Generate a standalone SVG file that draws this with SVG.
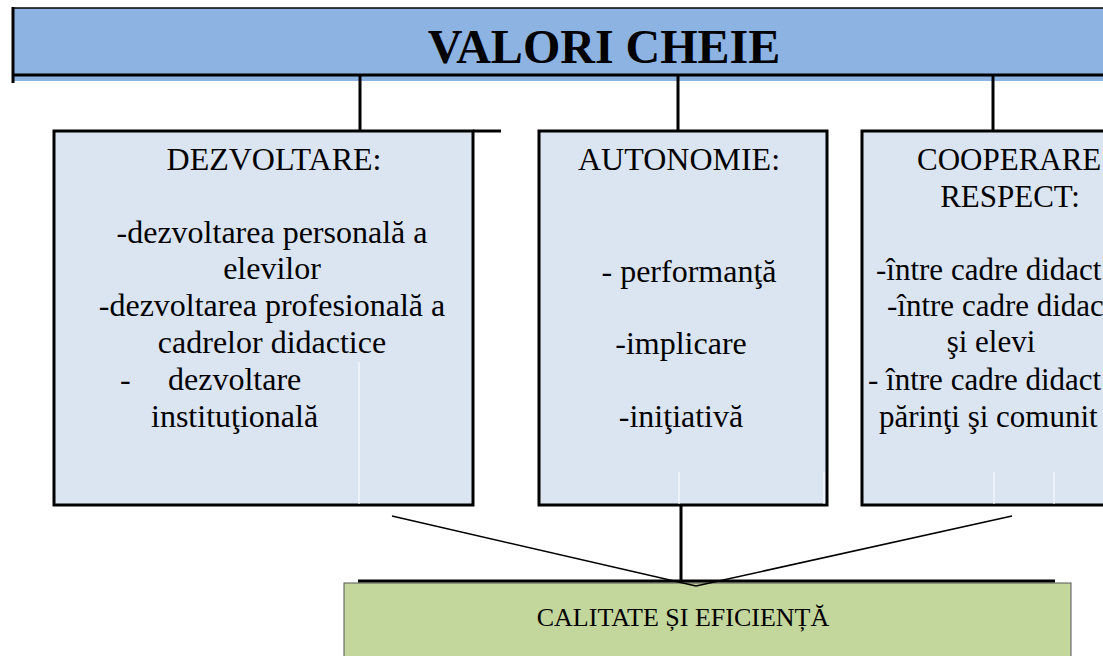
<svg xmlns="http://www.w3.org/2000/svg" width="1103" height="656" viewBox="0 0 1103 656">
<style>
.t{font-family:"Liberation Serif","Times New Roman",serif;fill:#000}
.b{font-size:32px}
.c{font-size:31px}
.box{fill:#dbe5f1;stroke:#000;stroke-width:3}
.ln{stroke:#000;stroke-width:3;fill:none}
.thin{stroke:#000;stroke-width:1.5;fill:none}
.w{stroke:#fff;stroke-width:1}
</style>
<rect width="1103" height="656" fill="#fff"/>
<g id="title">
<rect x="13" y="8" width="1092" height="73" fill="#8db3e2"/>
<line x1="13" y1="8" x2="1103" y2="8" class="thin" stroke="#222"/>
<line x1="13" y1="7" x2="13" y2="83" class="ln" stroke-width="2"/>
<line x1="13" y1="75" x2="1103" y2="75" class="ln"/>
<text x="604" y="63" text-anchor="middle" class="t" font-size="48" font-weight="bold">VALORI CHEIE</text>
</g>
<g id="dezvoltare">
<rect x="54" y="131" width="419" height="374" class="box"/>
<line x1="359" y1="362" x2="359" y2="504" class="w"/>
<g class="t b" text-anchor="middle">
<text x="274" y="170">DEZVOLTARE:</text>
<text x="272" y="243">-dezvoltarea personală a</text>
<text x="272" y="279">elevilor</text>
<text x="272" y="316">-dezvoltarea profesională a</text>
<text x="272" y="353">cadrelor didactice</text>
</g>
<text x="120" y="390" class="t b">-</text>
<text x="168" y="390" class="t b">dezvoltare</text>
<text x="151" y="427" class="t b">instituţională</text>
</g>
<g id="autonomie">
<rect x="539" y="131" width="288" height="374" class="box"/>
<line x1="679" y1="472" x2="679" y2="504" class="w"/>
<line x1="824" y1="472" x2="824" y2="504" class="w"/>
<g class="t b" text-anchor="middle">
<text x="679" y="170">AUTONOMIE:</text>
<text x="689" y="282">- performanţă</text>
<text x="681" y="354">-implicare</text>
<text x="681" y="427">-iniţiativă</text>
</g>
</g>
<g id="cooperare">
<rect x="862" y="131" width="300" height="374" class="box"/>
<line x1="994" y1="472" x2="994" y2="504" class="w"/>
<line x1="1054" y1="472" x2="1054" y2="504" class="w"/>
<g class="t c">
<text x="917" y="170">COOPERARE</text>
<text x="1010" y="207" text-anchor="middle">RESPECT:</text>
<text x="876" y="280">-între cadre didact</text>
<text x="887" y="316">-între cadre didac</text>
<text x="991" y="352" text-anchor="middle">şi elevi</text>
<text x="868" y="390">- între cadre didact</text>
<text x="879" y="427">părinţi şi comunit</text>
</g>
</g>
<g id="calitate">
<rect x="344" y="583" width="727" height="80" fill="#c3d69b" stroke="#555" stroke-width="1"/>
<text x="683" y="626" text-anchor="middle" class="t" font-size="26">CALITATE ȘI EFICIENȚĂ</text>
</g>
<g id="connectors">
<line x1="360" y1="75" x2="360" y2="131" class="ln"/>
<line x1="678" y1="75" x2="678" y2="131" class="ln"/>
<line x1="993" y1="75" x2="993" y2="131" class="ln"/>
<line x1="473" y1="131" x2="501" y2="131" class="ln"/>
<line x1="681" y1="506" x2="681" y2="581" class="ln"/>
<line x1="392" y1="516" x2="696" y2="586" class="thin"/>
<line x1="1012" y1="516" x2="696" y2="586" class="thin"/>
<line x1="358" y1="581" x2="1055" y2="581" class="ln"/>
</g>
</svg>
